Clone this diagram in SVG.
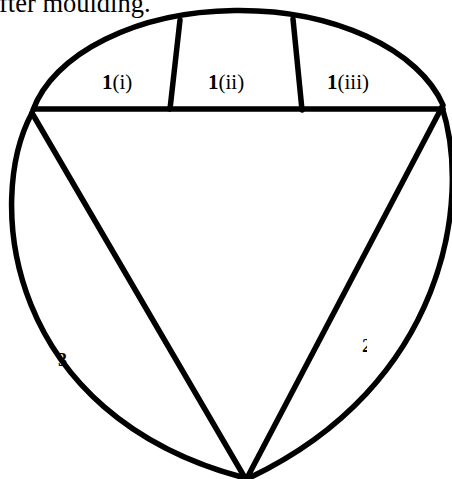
<svg xmlns="http://www.w3.org/2000/svg" width="452" height="479" viewBox="0 0 452 479">
<defs>
<style>
.ln{fill:none;stroke:#000;stroke-width:5.5;stroke-linecap:round;stroke-linejoin:round}
.t{font-family:"Liberation Serif","Times New Roman",serif;fill:#000}
.b{font-weight:bold}
</style>
<clipPath id="clip2"><rect x="362" y="320" width="5" height="40"/></clipPath>
</defs>
<rect width="452" height="479" fill="#fff"/>
<text class="t" x="-1" y="12" font-size="26.5">fter moulding.</text>
<g id="connectors">
<path class="ln" d="M33,110 A211,127 0 0 1 443,105"/>
<path class="ln" d="M180,20 L170,109"/>
<path class="ln" d="M293,19 L302,110"/>
<path class="ln" d="M34,109 L443,109"/>
<path class="ln" d="M32,113 L245,478"/>
<path class="ln" d="M442,107 L247,478"/>
<path class="ln" d="M32,113 C-15,200 5,415 245,478"/>
<path class="ln" d="M442,107 C472,200 445,385 249,478"/>
</g>
<g id="node-1i"><text class="t" x="102" y="89" font-size="21"><tspan class="b">1</tspan>(i)</text></g>
<g id="node-1ii"><text class="t" x="208" y="89" font-size="21"><tspan class="b">1</tspan>(ii)</text></g>
<g id="node-1iii"><text class="t" x="327" y="89" font-size="21"><tspan class="b">1</tspan>(iii)</text></g>
<g id="node-3"><text class="t b" x="58" y="366" font-size="18">3</text></g>
<g id="node-2"><text class="t b" x="362" y="352" font-size="19" clip-path="url(#clip2)">2</text></g>
</svg>
